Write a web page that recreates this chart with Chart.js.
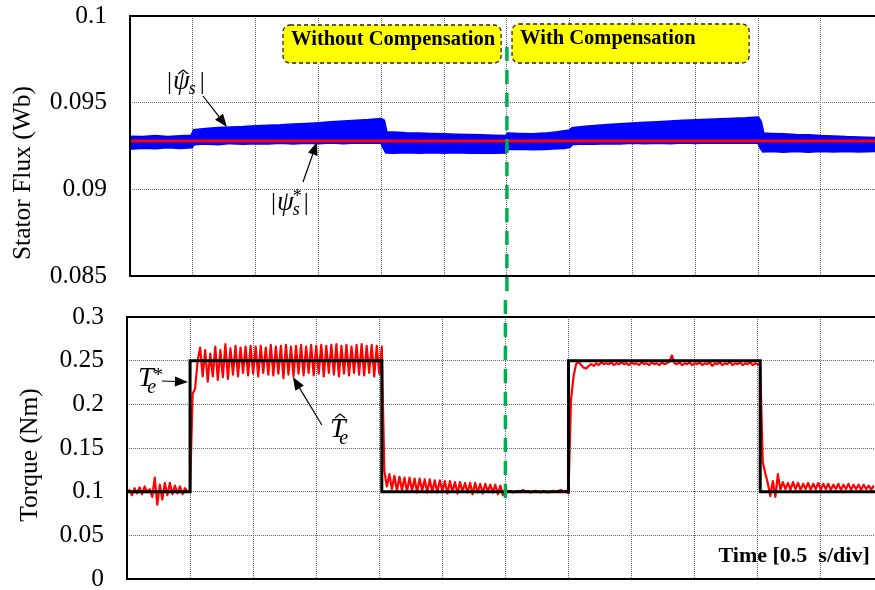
<!DOCTYPE html>
<html>
<head>
<meta charset="utf-8">
<title>Stator flux and torque</title>
<script src="https://cdn.jsdelivr.net/npm/chart.js@4.4.1/dist/chart.umd.min.js"></script>
<style>
  html, body { margin: 0; padding: 0; background: #fff; overflow: hidden; }
  .panel { position: absolute; left: 0; width: 875px; height: 295px; }
  #flux-panel { top: 0; }
  #torque-panel { top: 295px; }
</style>
</head>
<body>
<div class="panel" id="flux-panel"><canvas id="flux-chart" width="875" height="295"></canvas></div>
<div class="panel" id="torque-panel"><canvas id="torque-chart" width="875" height="295"></canvas></div>
<script>
// time axis, 0.5 s per division
const timeTicks = [0, 0.5, 1, 1.5, 2, 2.5, 3, 3.5, 4, 4.5, 5, 5.5];
const timeMax = 5.93;
const switchTime = 3.0; // compensation turned on here

// stator flux (Wb)
const fluxTicks = [0.085, 0.09, 0.095, 0.1];
const fluxRef = 0.09279;
const fluxTime = [0, 0.1, 0.2, 0.3, 0.4, 0.49, 0.51, 0.6, 0.7, 0.8, 0.9, 1.0, 1.1, 1.2, 1.3, 1.4, 1.5,
  1.6, 1.7, 1.8, 1.9, 2.0, 2.02, 2.04, 2.1, 2.2, 2.3, 2.4, 2.5, 2.6, 2.7, 2.8, 2.9, 2.99, 3.01, 3.1,
  3.2, 3.3, 3.4, 3.46, 3.5, 3.52, 3.6, 3.7, 3.8, 3.9, 4.0, 4.1, 4.2, 4.3, 4.4, 4.5, 4.6, 4.7, 4.8,
  4.9, 5.0, 5.02, 5.04, 5.1, 5.2, 5.3, 5.4, 5.5, 5.6, 5.7, 5.8, 5.93];
// upper / lower edge of the estimated flux ripple band
const fluxUpper = [0.09302, 0.09300, 0.09306, 0.09300, 0.09305, 0.09308, 0.09340, 0.09346, 0.09352,
  0.09356, 0.09358, 0.09362, 0.09366, 0.09368, 0.09372, 0.09376, 0.09380, 0.09385, 0.09390, 0.09394,
  0.09398, 0.09404, 0.09396, 0.09328, 0.09326, 0.09322, 0.09320, 0.09318, 0.09316, 0.09314, 0.09312,
  0.09310, 0.09308, 0.09306, 0.09320, 0.09318, 0.09316, 0.09320, 0.09328, 0.09334, 0.09338, 0.09352,
  0.09358, 0.09364, 0.09370, 0.09374, 0.09378, 0.09382, 0.09386, 0.09390, 0.09394, 0.09397, 0.09400,
  0.09403, 0.09406, 0.09408, 0.09412, 0.09390, 0.09320, 0.09318, 0.09316, 0.09312, 0.09310, 0.09306,
  0.09304, 0.09300, 0.09298, 0.09294];
const fluxLower = [0.09236, 0.09242, 0.09238, 0.09244, 0.09240, 0.09244, 0.09262, 0.09266, 0.09262,
  0.09268, 0.09264, 0.09268, 0.09266, 0.09270, 0.09266, 0.09270, 0.09268, 0.09271, 0.09268, 0.09272,
  0.09270, 0.09272, 0.09240, 0.09214, 0.09212, 0.09216, 0.09212, 0.09216, 0.09212, 0.09216, 0.09212,
  0.09214, 0.09212, 0.09214, 0.09234, 0.09236, 0.09232, 0.09234, 0.09238, 0.09240, 0.09246, 0.09262,
  0.09266, 0.09264, 0.09268, 0.09266, 0.09270, 0.09268, 0.09270, 0.09268, 0.09271, 0.09269, 0.09271,
  0.09270, 0.09272, 0.09270, 0.09272, 0.09240, 0.09220, 0.09222, 0.09218, 0.09222, 0.09218, 0.09222,
  0.09219, 0.09222, 0.09220, 0.09222];

// torque (Nm)
const torqueTicks = [0, 0.05, 0.1, 0.15, 0.2, 0.25, 0.3];
const torqueRefTime = [0, 0.5, 0.5, 2.02, 2.02, 3.5, 3.5, 5.02, 5.02, 5.93];
const torqueRef = [0.1, 0.1, 0.25, 0.25, 0.1, 0.1, 0.25, 0.25, 0.1, 0.1];
// estimated torque, sampled every 20 ms, stored per load interval
const sampleStep = 0.02;
const torqueSegStart = [0, 0.5, 2.04, 3.02, 3.52, 5.04];
const torqueSeg0 = [0.099, 0.102, 0.096, 0.104, 0.098, 0.105, 0.097, 0.106, 0.099, 0.103, 0.094, 0.116,
  0.085, 0.108, 0.091, 0.110, 0.096, 0.110, 0.097, 0.107, 0.098, 0.106, 0.097, 0.104, 0.100];
const torqueSeg1 = [0.100, 0.212, 0.218, 0.250, 0.265, 0.232, 0.262, 0.226, 0.258, 0.232,
  0.266, 0.228, 0.262, 0.231, 0.269, 0.229, 0.264, 0.234, 0.267, 0.232,
  0.265, 0.236, 0.266, 0.233, 0.267, 0.235, 0.266, 0.232, 0.267, 0.236,
  0.265, 0.234, 0.268, 0.233, 0.266, 0.235, 0.267, 0.230, 0.268, 0.234,
  0.266, 0.232, 0.267, 0.235, 0.268, 0.233, 0.266, 0.236, 0.268, 0.233,
  0.267, 0.235, 0.268, 0.232, 0.267, 0.236, 0.268, 0.234, 0.269, 0.232,
  0.267, 0.235, 0.268, 0.233, 0.266, 0.236, 0.268, 0.234, 0.269, 0.233,
  0.267, 0.236, 0.268, 0.232, 0.267, 0.235, 0.266];
const torqueSeg2 = [0.124, 0.106, 0.120, 0.103, 0.118, 0.101, 0.117, 0.102, 0.116, 0.100,
  0.116, 0.101, 0.115, 0.099, 0.115, 0.101, 0.114, 0.099, 0.114, 0.100,
  0.113, 0.099, 0.113, 0.101, 0.112, 0.098, 0.112, 0.100, 0.111, 0.098,
  0.111, 0.100, 0.110, 0.099, 0.110, 0.097, 0.110, 0.099, 0.109, 0.098,
  0.109, 0.100, 0.108, 0.099, 0.108, 0.097, 0.107, 0.096, 0.103];
const torqueSeg3 = [0.100, 0.101, 0.099, 0.100, 0.101, 0.100, 0.102, 0.100, 0.101, 0.099, 0.100, 0.101,
  0.100, 0.099, 0.101, 0.100, 0.099, 0.100, 0.101, 0.100, 0.101, 0.102, 0.100, 0.101, 0.098];
const torqueSeg4 = [0.205, 0.232, 0.246, 0.249, 0.245, 0.242, 0.241, 0.244, 0.246, 0.244,
  0.247, 0.245, 0.248, 0.246, 0.247, 0.246, 0.248, 0.245, 0.247, 0.246,
  0.248, 0.246, 0.247, 0.245, 0.248, 0.246, 0.247, 0.245, 0.248, 0.246,
  0.247, 0.245, 0.248, 0.246, 0.247, 0.245, 0.248, 0.246, 0.247, 0.249,
  0.256, 0.247, 0.246, 0.248, 0.245, 0.247, 0.246, 0.248, 0.245, 0.247,
  0.246, 0.248, 0.245, 0.247, 0.246, 0.248, 0.244, 0.247, 0.246, 0.248,
  0.245, 0.247, 0.246, 0.249, 0.245, 0.247, 0.246, 0.248, 0.245, 0.247,
  0.246, 0.248, 0.245, 0.247, 0.246, 0.244];
const torqueSeg5 = [0.134, 0.121, 0.110, 0.095, 0.112, 0.094, 0.120, 0.102, 0.111, 0.103,
  0.110, 0.102, 0.111, 0.103, 0.110, 0.102, 0.109, 0.103, 0.110, 0.102,
  0.109, 0.103, 0.110, 0.102, 0.109, 0.103, 0.109, 0.102, 0.108, 0.103,
  0.109, 0.102, 0.108, 0.103, 0.109, 0.102, 0.108, 0.103, 0.108, 0.102,
  0.108, 0.103, 0.107, 0.102, 0.107];

const gridColor = '#666';
const gridDash = [1, 1];
const serif = '"Liberation Serif", "Times New Roman", serif';
const dashPeriod = [14, 9];
let greenRun = 0; // length of the marker already drawn in the flux panel

function toPoints(xs, ys) {
    return xs.map((x, i) => ({x: x, y: ys[i]}));
}

function torqueEstPoints() {
    const segs = [torqueSeg0, torqueSeg1, torqueSeg2, torqueSeg3, torqueSeg4, torqueSeg5];
    let pts = [];
    for (let k = 0; k < segs.length; k++) {
        for (let i = 0; i < segs[k].length; i++) {
            pts.push({x: +(torqueSegStart[k] + i * sampleStep).toFixed(2), y: segs[k][i]});
        }
    }
    return pts;
}

function timeScale(height) {
    return {
        type: 'linear', min: 0, max: timeMax,
        afterBuildTicks: s => { s.ticks = timeTicks.map(v => ({value: v})); },
        afterFit: s => { s.height = height; s.paddingLeft = 0; s.paddingRight = 0; },
        ticks: {display: false},
        grid: {color: gridColor, lineWidth: 1, drawTicks: false},
        border: {display: false, dash: gridDash}
    };
}

function valueScale(ticks, width) {
    return {
        type: 'linear', min: ticks[0], max: ticks[ticks.length - 1],
        afterBuildTicks: s => { s.ticks = ticks.map(v => ({value: v})); },
        afterFit: s => { s.width = width; s.paddingTop = 0; s.paddingBottom = 0; },
        ticks: {color: '#000', padding: 23, font: {family: serif, size: 25.5}, callback: v => String(v)},
        grid: {color: gridColor, lineWidth: 1, drawTicks: false},
        border: {display: false, dash: gridDash}
    };
}

// ---- drawing helpers for the overlay ----
function drawFrame(ctx, a) {
    ctx.save();
    ctx.strokeStyle = '#000';
    ctx.lineWidth = 2;
    ctx.beginPath();
    ctx.moveTo(a.right + 2, a.top);
    ctx.lineTo(a.left, a.top);
    ctx.lineTo(a.left, a.bottom);
    ctx.lineTo(a.right + 2, a.bottom);
    ctx.stroke();
    ctx.restore();
}

function drawArrow(ctx, x1, y1, x2, y2) {
    const ang = Math.atan2(y2 - y1, x2 - x1);
    const len = 13, half = 5;
    const bx = x2 - len * Math.cos(ang), by = y2 - len * Math.sin(ang);
    ctx.save();
    ctx.strokeStyle = '#000';
    ctx.fillStyle = '#000';
    ctx.lineWidth = 1.2;
    ctx.beginPath();
    ctx.moveTo(x1, y1);
    ctx.lineTo(bx, by);
    ctx.stroke();
    ctx.beginPath();
    ctx.moveTo(x2, y2);
    ctx.lineTo(bx + half * Math.sin(ang), by - half * Math.cos(ang));
    ctx.lineTo(bx - half * Math.sin(ang), by + half * Math.cos(ang));
    ctx.closePath();
    ctx.fill();
    ctx.restore();
}

function drawHat(ctx, cx, apexY) {
    ctx.save();
    ctx.strokeStyle = '#000';
    ctx.lineWidth = 1.3;
    ctx.beginPath();
    ctx.moveTo(cx - 5, apexY + 4);
    ctx.lineTo(cx, apexY);
    ctx.lineTo(cx + 5, apexY + 4);
    ctx.stroke();
    ctx.restore();
}

// |psi_s| with an optional hat or star
function drawPsi(ctx, x, y, hat, star) {
    ctx.save();
    ctx.fillStyle = '#000';
    ctx.textAlign = 'left';
    ctx.textBaseline = 'alphabetic';
    ctx.font = '25px ' + serif;
    ctx.fillText('|', x, y);
    let cx = x + ctx.measureText('|').width + 1;
    ctx.font = 'italic 27px ' + serif;
    ctx.fillText('ψ', cx, y);
    const w = ctx.measureText('ψ').width;
    if (hat) drawHat(ctx, cx + w * 0.6, y - 19);
    cx += w - 1;
    ctx.font = 'italic 18px ' + serif;
    ctx.fillText('s', cx, y + 5);
    if (star) {
        ctx.font = '18px ' + serif;
        ctx.fillText('*', cx, y - 8);
    }
    cx += ctx.measureText('s').width + 4;
    ctx.font = '25px ' + serif;
    ctx.fillText('|', cx, y);
    ctx.restore();
}

// T_e with an optional hat or star
function drawTorqueSym(ctx, x, y, hat, star) {
    ctx.save();
    ctx.fillStyle = '#000';
    ctx.textAlign = 'left';
    ctx.textBaseline = 'alphabetic';
    ctx.font = 'italic 28px ' + serif;
    ctx.fillText('T', x, y);
    const w = ctx.measureText('T').width;
    if (hat) drawHat(ctx, x + w * 0.65, y - 23);
    ctx.font = 'italic 20px ' + serif;
    ctx.fillText('e', x + w * 0.6, y + 7);
    if (star) {
        ctx.font = '19px ' + serif;
        ctx.fillText('*', x + w, y - 5);
    }
    ctx.restore();
}

function drawNote(ctx, x1, y1, x2, y2, text, tx, ty) {
    ctx.save();
    ctx.fillStyle = '#ffff00';
    ctx.strokeStyle = '#222';
    ctx.lineWidth = 1.3;
    ctx.setLineDash([4, 3]);
    ctx.beginPath();
    ctx.roundRect(x1, y1, x2 - x1, y2 - y1, 7);
    ctx.fill();
    ctx.stroke();
    ctx.setLineDash([]);
    ctx.fillStyle = '#000';
    ctx.font = 'bold 20.5px ' + serif;
    ctx.textAlign = 'left';
    ctx.textBaseline = 'alphabetic';
    ctx.fillText(text, tx, ty);
    ctx.restore();
}

function drawMarker(ctx, x, yTop, yBottom, offset) {
    ctx.save();
    ctx.strokeStyle = '#00b050';
    ctx.lineWidth = 3.5;
    ctx.setLineDash(dashPeriod);
    ctx.lineDashOffset = offset;
    ctx.beginPath();
    ctx.moveTo(x, yTop);
    ctx.lineTo(x, yBottom);
    ctx.stroke();
    ctx.restore();
}

function drawAxisTitle(ctx, text, x, y) {
    ctx.save();
    ctx.translate(x, y);
    ctx.rotate(-Math.PI / 2);
    ctx.fillStyle = '#000';
    ctx.font = '25.5px ' + serif;
    ctx.textAlign = 'center';
    ctx.textBaseline = 'middle';
    ctx.fillText(text, 0, 0);
    ctx.restore();
}

const fluxOverlay = {
    id: 'fluxOverlay',
    afterDraw(chart) {
        const ctx = chart.ctx, xs = chart.scales.x, ys = chart.scales.y;
        const px = t => xs.getPixelForValue(t), py = v => ys.getPixelForValue(v);
        drawFrame(ctx, chart.chartArea);
        drawAxisTitle(ctx, 'Stator Flux (Wb)', 23, 173);

        drawNote(ctx, px(1.218), py(0.099481), px(2.954), py(0.097289),
            'Without Compensation', px(1.282), py(0.098327));
        drawNote(ctx, px(3.041), py(0.099538), px(4.928), py(0.097289),
            'With Compensation', px(3.105), py(0.098385));

        drawPsi(ctx, px(0.295), py(0.09579), true, false);
        drawArrow(ctx, px(0.581), py(0.095385), px(0.772), py(0.093596));
        drawPsi(ctx, px(1.123), py(0.088808), false, true);
        drawArrow(ctx, px(1.377), py(0.090423), px(1.489), py(0.092731));

        const top = py(0.098212);
        greenRun = chart.height - top;
        drawMarker(ctx, px(switchTime), top, chart.height, 0);
    }
};

const torqueOverlay = {
    id: 'torqueOverlay',
    afterDraw(chart) {
        const ctx = chart.ctx, xs = chart.scales.x, ys = chart.scales.y;
        const px = t => xs.getPixelForValue(t), py = v => ys.getPixelForValue(v);
        drawFrame(ctx, chart.chartArea);
        drawAxisTitle(ctx, 'Torque (Nm)', 30, 160);

        drawTorqueSym(ctx, px(0.087), py(0.22099), false, true);
        drawArrow(ctx, px(0.277), py(0.22672), px(0.483), py(0.22557));
        drawTorqueSym(ctx, px(1.609), py(0.1626), true, false);
        drawArrow(ctx, px(1.545), py(0.17634), px(1.315), py(0.2313));

        ctx.save();
        ctx.fillStyle = '#000';
        ctx.font = 'bold 22px ' + serif;
        ctx.textAlign = 'right';
        ctx.textBaseline = 'alphabetic';
        ctx.fillText('Time [0.5  s/div]', px(5.888), py(0.01948));
        ctx.restore();

        const period = dashPeriod[0] + dashPeriod[1];
        drawMarker(ctx, px(switchTime), 0, py(0.08474), greenRun % period);
    }
};

const baseOptions = {
    responsive: false,
    animation: false,
    events: [],
    plugins: {legend: {display: false}, tooltip: {enabled: false}}
};

const fluxChart = new Chart(document.getElementById('flux-chart'), {
    type: 'line',
    data: {
        datasets: [{
            label: 'flux reference',
            data: toPoints([0, timeMax], [fluxRef, fluxRef]),
            borderColor: '#ff0000',
            borderWidth: 3,
            pointRadius: 0,
            order: 0
        }, {
            label: 'flux estimate upper',
            data: toPoints(fluxTime, fluxUpper),
            borderColor: '#0000ff',
            borderWidth: 3,
            pointRadius: 0,
            fill: false,
            order: 1
        }, {
            label: 'flux estimate lower',
            data: toPoints(fluxTime, fluxLower),
            borderColor: '#0000ff',
            backgroundColor: '#0000ff',
            borderWidth: 3,
            pointRadius: 0,
            fill: '-1',
            order: 1
        }]
    },
    options: Object.assign({}, baseOptions, {
        layout: {padding: {top: 16, left: 0, right: 0, bottom: 0}},
        scales: {x: timeScale(19), y: valueScale(fluxTicks, 130)}
    }),
    plugins: [fluxOverlay]
});

const torqueChart = new Chart(document.getElementById('torque-chart'), {
    type: 'line',
    data: {
        datasets: [{
            label: 'torque reference',
            data: toPoints(torqueRefTime, torqueRef),
            borderColor: '#000',
            borderWidth: 3,
            pointRadius: 0,
            order: 0
        }, {
            label: 'torque estimate',
            data: torqueEstPoints(),
            borderColor: '#ff0000',
            borderWidth: 2.2,
            borderJoinStyle: 'round',
            pointRadius: 0,
            order: 1
        }]
    },
    options: Object.assign({}, baseOptions, {
        layout: {padding: {top: 22, left: 0, right: 0, bottom: 0}},
        scales: {x: timeScale(11), y: valueScale(torqueTicks, 127)}
    }),
    plugins: [torqueOverlay]
});
</script>
</body>
</html>
